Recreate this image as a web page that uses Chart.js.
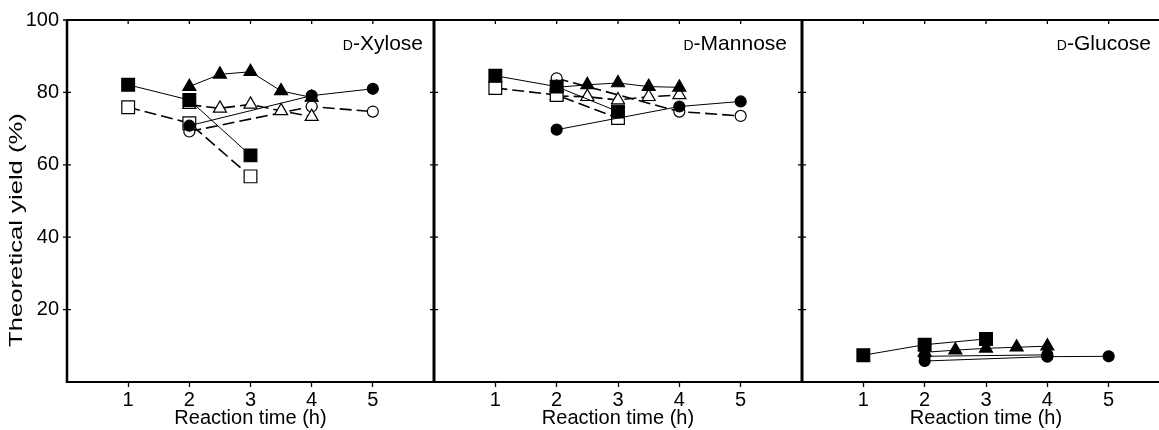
<!DOCTYPE html>
<html>
<head>
<meta charset="utf-8">
<script src="https://cdn.jsdelivr.net/npm/chart.js@4.4.0/dist/chart.umd.min.js"></script>
<style>
html, body { margin: 0; padding: 0; background: #fff; }
body { position: relative; width: 1159px; height: 430px; overflow: hidden; }
canvas { position: absolute; top: 0; }
</style>
</head>
<body>
<canvas id="c1" width="440" height="430" style="left:0"></canvas>
<canvas id="c2" width="380" height="430" style="left:428px"></canvas>
<canvas id="c3" width="380" height="430" style="left:796px"></canvas>
<script>
// reaction times (h) at which each marker type was sampled
var sqX = [1, 2, 3];
var triX = [2, 2.5, 3, 3.5, 4];
var circX = [2, 4, 5];
var circX2 = [2, 4];

var xTicks = [1, 2, 3, 4, 5];
var yTicks = [20, 40, 60, 80, 100];

// D-Xylose
var xylSqFilled = [82.1, 77.9, 62.6];
var xylSqOpen = [75.9, 71.5, 56.8];
var xylTriFilled = [81.6, 85.0, 85.7, 80.4, 78.6];
var xylTriOpen = [76.6, 75.6, 76.7, 74.9, 73.3];
var xylCircFilled = [70.8, 79.1, 81.0];
var xylCircOpen = [69.2, 76.1, 74.7];

// D-Mannose
var manSqFilled = [84.6, 81.6, 74.7];
var manSqOpen = [81.2, 79.3, 72.9];
var manTriFilled = [81.4, 82.1, 82.6, 81.6, 81.4];
var manTriOpen = [79.0, 78.8, 77.9, 78.8, 79.3];
var manCircFilled = [69.7, 76.1, 77.5];
var manCircOpen = [83.9, 74.7, 73.5];

// D-Glucose
var gluSqFilled = [7.4, 10.3, 11.9];
var gluTriFilled = [8.2, 8.8, 9.3, 9.6, 9.9];
var gluCircFilled = [5.8, 7.0, 7.1];
var gluCircFilled2 = [7.1, 7.5];

var FONT = '"Liberation Sans", Arial, sans-serif';

function pts(xs, ys) {
    return xs.map(function(x, i) { return { x: x, y: ys[i] }; });
}

function series(xs, ys, style, filled) {
    var r = style == 'rect' ? 9 : (style == 'triangle' ? 7.5 : 5.5);
    return {
        data: pts(xs, ys),
        showLine: true,
        borderColor: '#000',
        borderWidth: filled ? 1 : 1.6,
        borderDash: filled ? [] : [12, 5],
        pointStyle: style,
        pointRadius: r,
        pointHoverRadius: r,
        pointBackgroundColor: filled ? '#000' : '#fff',
        pointBorderColor: '#000',
        pointBorderWidth: 1.2
    };
}

var framePlugin = {
    id: 'frame',
    afterDraw: function(chart, args, opts) {
        var a = chart.chartArea, ctx = chart.ctx;
        var xs = chart.scales.x, ys = chart.scales.y;
        ctx.save();
        ctx.strokeStyle = '#000';
        // top and bottom
        ctx.lineWidth = 2;
        ctx.beginPath();
        ctx.moveTo(a.left, a.top); ctx.lineTo(a.right + 2, a.top);
        ctx.moveTo(a.left, a.bottom); ctx.lineTo(a.right + 2, a.bottom);
        ctx.stroke();
        // left edge / divider
        ctx.lineWidth = opts.leftWidth;
        ctx.beginPath();
        ctx.moveTo(a.left, a.top - 1); ctx.lineTo(a.left, a.bottom + 1);
        ctx.stroke();
        // small ticks
        ctx.lineWidth = 1.3;
        ctx.beginPath();
        yTicks.forEach(function(v) {
            var y = ys.getPixelForValue(v);
            ctx.moveTo(a.left - 4, y); ctx.lineTo(a.left + 4, y);
        });
        xTicks.forEach(function(v) {
            var x = xs.getPixelForValue(v);
            ctx.moveTo(x, a.top); ctx.lineTo(x, a.top + 4);
        });
        ctx.stroke();
        // sugar label with small-cap D
        ctx.fillStyle = '#000';
        ctx.textBaseline = 'alphabetic';
        ctx.textAlign = 'right';
        var rx = a.right - opts.labelOffset, by = 50;
        ctx.font = '21px ' + FONT;
        ctx.fillText(opts.label, rx, by);
        var w = ctx.measureText(opts.label).width;
        ctx.font = '14px ' + FONT;
        ctx.fillText('D', rx - w, by);
        // y axis title
        if (opts.yTitle) {
            ctx.translate(17, 230);
            ctx.rotate(-Math.PI / 2);
            ctx.scale(1.35, 1);
            ctx.textAlign = 'center';
            ctx.textBaseline = 'middle';
            ctx.font = '19px ' + FONT;
            ctx.fillText(opts.yTitle, 0, 0);
        }
        ctx.restore();
    }
};

function makePanel(id, datasets, frameOpts, first) {
    return new Chart(document.getElementById(id), {
        type: 'scatter',
        data: { datasets: datasets },
        options: {
            responsive: false,
            animation: false,
            devicePixelRatio: 1,
            layout: { autoPadding: false, padding: { top: 20, left: first ? 0 : 6, right: 6, bottom: 0 } },
            plugins: {
                legend: { display: false },
                tooltip: { enabled: false },
                frame: frameOpts
            },
            scales: {
                x: {
                    type: 'linear',
                    min: 0,
                    max: 6,
                    afterBuildTicks: function(scale) {
                        scale.ticks = xTicks.map(function(v) { return { value: v }; });
                    },
                    afterFit: function(scale) {
                        scale.height = 48;
                        scale.paddingLeft = 0;
                        scale.paddingRight = 0;
                    },
                    border: { display: false },
                    grid: { display: true, drawOnChartArea: false, drawTicks: true, tickLength: 5, tickColor: '#000', tickWidth: 1.3 },
                    ticks: { color: '#000', padding: 1, font: { family: FONT, size: 20 } },
                    title: {
                        display: true,
                        text: 'Reaction time (h)',
                        color: '#000',
                        padding: 0,
                        font: { family: FONT, size: 20 }
                    }
                },
                y: {
                    type: 'linear',
                    display: first ? true : false,
                    min: 0,
                    max: 100,
                    afterBuildTicks: function(scale) {
                        scale.ticks = yTicks.map(function(v) { return { value: v }; });
                    },
                    afterFit: function(scale) {
                        scale.width = first ? 67 : 0;
                        scale.paddingTop = 0;
                        scale.paddingBottom = 0;
                    },
                    border: { display: false },
                    grid: { display: false, drawTicks: false },
                    ticks: { color: '#000', padding: 8, font: { family: FONT, size: 20 } }
                }
            }
        },
        plugins: [framePlugin]
    });
}

makePanel('c1', [
    series(sqX, xylSqFilled, 'rect', true),
    series(triX, xylTriFilled, 'triangle', true),
    series(circX, xylCircFilled, 'circle', true),
    series(sqX, xylSqOpen, 'rect', false),
    series(triX, xylTriOpen, 'triangle', false),
    series(circX, xylCircOpen, 'circle', false)
], { leftWidth: 2.5, label: '-Xylose', labelOffset: 11, yTitle: 'Theoretical yield (%)' }, true);

makePanel('c2', [
    series(sqX, manSqFilled, 'rect', true),
    series(triX, manTriFilled, 'triangle', true),
    series(circX, manCircFilled, 'circle', true),
    series(sqX, manSqOpen, 'rect', false),
    series(triX, manTriOpen, 'triangle', false),
    series(circX, manCircOpen, 'circle', false)
], { leftWidth: 3, label: '-Mannose', labelOffset: 15 }, false);

makePanel('c3', [
    series(sqX, gluSqFilled, 'rect', true),
    series(triX, gluTriFilled, 'triangle', true),
    series(circX, gluCircFilled, 'circle', true),
    series(circX2, gluCircFilled2, 'circle', true)
], { leftWidth: 3, label: '-Glucose', labelOffset: 19 }, false);
</script>
</body>
</html>
